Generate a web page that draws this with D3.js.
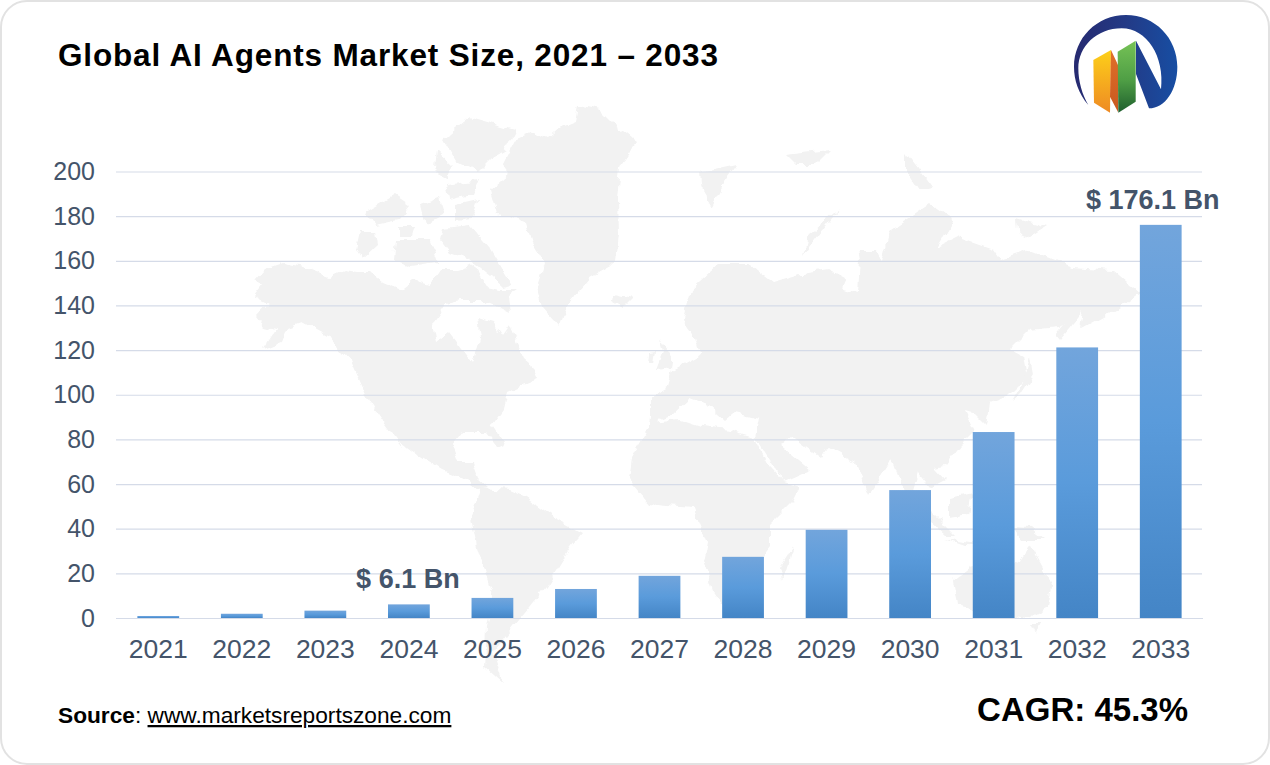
<!DOCTYPE html>
<html>
<head>
<meta charset="utf-8">
<script src="https://cdnjs.cloudflare.com/ajax/libs/d3/7.8.5/d3.min.js"></script>
<style>
html,body{margin:0;padding:0;background:#fff;overflow:hidden}
svg{display:block}
text{font-family:"Liberation Sans",Arial,sans-serif}
</style>
</head>
<body>
<svg id="c" width="1270" height="765"></svg>
<script>
const years = ["2021","2022","2023","2024","2025","2026","2027","2028","2029","2030","2031","2032","2033"];
const marketSize = [0.9,1.9,3.3,6.1,9,13,18.9,27.4,39.5,57.3,83.3,121.2,176.1];
const yTicks = [0,20,40,60,80,100,120,140,160,180,200];
const labelledYears = ["2024","2033"];
const labelTexts = ["$ 6.1 Bn","$ 176.1 Bn"];
const titleText = "Global AI Agents Market Size, 2021 – 2033";

// decorative background map outlines
const mapShapes = [
 // North America
 [[253,297],[262,285],[254,280],[263,270],[283,263],[300,266],[330,277],[345,270],[357,272],[370,272],[383,283],[400,290],[413,280],[430,285],[440,270],[457,270],[473,265],[487,287],[500,290],[517,290],[508,296],[510,313],[500,308],[480,300],[460,300],[447,303],[433,323],[437,343],[450,333],[463,350],[473,363],[480,340],[477,317],[493,322],[503,337],[510,327],[523,357],[530,363],[538,380],[520,387],[507,393],[503,410],[492,425],[505,445],[498,448],[485,432],[462,432],[452,445],[458,462],[472,462],[478,478],[488,487],[478,490],[462,478],[442,470],[418,455],[398,440],[405,452],[385,425],[368,400],[362,387],[350,360],[330,337],[302,322],[288,327],[282,342],[262,350],[275,330],[263,327],[256,318],[268,305]],
 // Greenland
 [[578,105],[600,110],[613,123],[637,142],[620,167],[617,200],[618,233],[615,263],[590,277],[568,303],[560,327],[543,307],[537,287],[545,263],[533,243],[527,223],[505,214],[497,213],[490,190],[510,173],[503,163],[515,140],[535,132],[548,138],[560,128],[575,122]],
 // Canadian arctic
 [[470,117],[515,130],[505,150],[493,157],[478,172],[455,160],[443,140]],
 [[436,150],[452,165],[446,180],[434,168]],
 [[445,185],[478,180],[472,195],[448,200]],
 [[443,228],[470,225],[490,248],[512,285],[503,288],[490,276],[470,260],[450,253],[440,240]],
 [[360,232],[376,232],[378,245],[362,260],[356,250]],
 [[395,240],[430,240],[438,262],[410,266],[393,260]],
 [[366,212],[395,195],[410,205],[398,220],[375,225]],
 [[420,205],[440,198],[445,215],[425,225]],
 [[456,205],[478,200],[472,218],[456,220]],
 [[400,226],[415,226],[412,236],[400,236]],
 // Iceland, UK, Ireland
 [[613,293],[633,297],[623,307],[612,301]],
 [[660,338],[673,360],[672,368],[657,370],[664,352]],
 [[648,353],[655,352],[653,364],[647,364]],
 // Svalbard, Novaya Zemlya and arctic isles
 [[700,173],[737,165],[725,182],[712,207],[702,190]],
 [[840,208],[815,240],[803,257],[808,235]],
 [[785,155],[830,150],[815,165],[795,165]],
 [[905,152],[915,165],[932,187],[918,190],[905,170]],
 [[1017,218],[1047,227],[1030,238],[1018,232]],
 // Eurasia
 [[720,263],[747,263],[773,283],[790,278],[807,273],[830,270],[845,278],[842,290],[858,293],[860,260],[858,250],[877,250],[882,262],[890,230],[930,203],[953,220],[937,247],[957,237],[993,250],[1000,260],[1030,250],[1073,267],[1113,270],[1140,293],[1117,310],[1080,330],[1083,312],[1060,327],[1030,330],[1010,350],[1023,357],[1027,377],[1007,397],[990,403],[987,427],[972,412],[965,410],[975,430],[960,445],[945,465],[934,467],[946,480],[930,488],[918,473],[910,500],[918,510],[905,490],[893,458],[869,495],[856,463],[828,448],[820,458],[791,437],[780,445],[810,470],[783,482],[770,460],[756,438],[760,418],[735,412],[725,420],[708,405],[690,398],[672,415],[660,420],[647,437],[650,417],[650,397],[668,387],[673,370],[700,355],[695,337],[683,320],[690,290]],
 // Japan, Sakhalin
 [[1030,357],[1033,375],[1020,395],[1012,402],[1025,378]],
 [[1083,312],[1060,340],[1056,335],[1072,315]],
 // Africa
 [[629,480],[632,457],[652,423],[680,420],[701,427],[730,430],[754,437],[767,463],[783,482],[799,487],[791,503],[771,523],[771,547],[750,573],[742,603],[722,605],[712,590],[703,563],[707,543],[693,507],[668,505],[648,503]],
 [[793,547],[783,580],[780,567]],
 // South America
 [[481,488],[510,490],[526,497],[555,518],[583,533],[571,547],[546,587],[530,607],[513,627],[493,653],[503,683],[485,667],[487,627],[493,597],[477,547],[471,517]],
 // Indonesia and Oceania
 [[925,505],[955,535],[945,535],[922,515]],
 [[950,497],[972,492],[968,515],[950,518]],
 [[945,538],[995,546],[965,545]],
 [[983,500],[990,525],[980,520]],
 [[1011,527],[1030,528],[1044,540],[1020,540]],
 [[954,580],[971,567],[1000,560],[1020,563],[1028,543],[1052,587],[1048,607],[1028,618],[991,613],[958,605]],
 [[1032,624],[1042,624],[1037,634]]
];

const W = 1270, H = 765;
const svg = d3.select("#c");
const defs = svg.append("defs");

const barGrad = defs.append("linearGradient").attr("id","barGrad").attr("x1",0).attr("y1",0).attr("x2",0).attr("y2",1);
barGrad.append("stop").attr("offset","0%").attr("stop-color","#72a5dc");
barGrad.append("stop").attr("offset","50%").attr("stop-color","#5a9bdb");
barGrad.append("stop").attr("offset","100%").attr("stop-color","#4485c6");

const rough = defs.append("filter").attr("id","rough").attr("filterUnits","userSpaceOnUse")
  .attr("x",0).attr("y",0).attr("width",W).attr("height",H)
  .attr("color-interpolation-filters","sRGB");
rough.append("feTurbulence").attr("type","fractalNoise").attr("baseFrequency",0.09).attr("numOctaves",2).attr("seed",4).attr("result","n");
rough.append("feDisplacementMap").attr("in","SourceGraphic").attr("in2","n").attr("scale",9).attr("xChannelSelector","R").attr("yChannelSelector","G");

function lg(id,x1,y1,x2,y2,stops){
  const g = defs.append("linearGradient").attr("id",id).attr("x1",x1).attr("y1",y1).attr("x2",x2).attr("y2",y2);
  stops.forEach(s=>g.append("stop").attr("offset",s[0]).attr("stop-color",s[1]));
}
lg("arcG",0,0,1,0,[["0%","#262a70"],["50%","#233a86"],["100%","#174ea3"]]);
lg("yelG",0,0,0,1,[["0%","#fdd019"],["100%","#ee8a24"]]);
lg("orgG",0,0,0,1,[["0%","#e0702a"],["100%","#c9581f"]]);
lg("grnG",0,0,0,1,[["0%","#76c356"],["55%","#4f9e45"],["100%","#1f5f2e"]]);

// card
svg.append("rect").attr("x",1).attr("y",1).attr("width",W-2).attr("height",H-2).attr("rx",26).attr("ry",26)
  .attr("fill","#fff").attr("stroke","#e2e2e2").attr("stroke-width",2);

// map
const mapLine = d3.line().curve(d3.curveLinearClosed);
svg.append("g").attr("filter","url(#rough)").selectAll("path").data(mapShapes).join("path")
  .attr("d",d=>mapLine(d)).attr("fill","#f2f2f2");

// scales
const x = d3.scaleBand().domain(years).range([116.5,1202.5]).paddingInner(0.5).paddingOuter(0.25);
const y = d3.scaleLinear().domain([0,200]).range([618,171.5]);
const ink = "#44546a";

// y axis and grid
const yAxis = svg.append("g").attr("transform","translate(116,0)")
  .call(d3.axisLeft(y).tickValues(yTicks).tickSize(-1086).tickPadding(21));
yAxis.select(".domain").remove();
yAxis.selectAll(".tick line").attr("stroke","#d5dbe8").attr("stroke-width",1.2);
yAxis.selectAll(".tick text").attr("fill",ink).attr("font-size",25).attr("font-family","'Liberation Sans',Arial,sans-serif");

// bars
svg.append("g").selectAll("rect").data(years).join("rect")
  .attr("x",d=>x(d)).attr("width",x.bandwidth())
  .attr("y",(d,i)=>y(marketSize[i])).attr("height",(d,i)=>y(0)-y(marketSize[i]))
  .attr("fill","url(#barGrad)");

// x axis
const xAxis = svg.append("g").attr("transform","translate(0,618)")
  .call(d3.axisBottom(x).tickSize(0).tickPadding(21));
xAxis.select(".domain").attr("stroke","#d5dbe8").attr("stroke-width",1.2);
xAxis.selectAll(".tick text").attr("fill",ink).attr("font-size",26.5).attr("font-family","'Liberation Sans',Arial,sans-serif");

// value labels
const labelDx = [-1,-8];
svg.append("g").selectAll("text").data(labelledYears).join("text")
  .attr("x",(d,i)=>x(d)+x.bandwidth()/2+labelDx[i])
  .attr("y",d=>y(marketSize[years.indexOf(d)])-16)
  .attr("text-anchor","middle").attr("font-weight","bold").attr("font-size",27).attr("fill",ink)
  .text((d,i)=>labelTexts[i]);

// title
svg.append("text").attr("x",58).attr("y",66).attr("font-size",31.5).attr("font-weight","bold")
  .attr("fill","#000").attr("textLength",660).attr("lengthAdjust","spacing").text(titleText);

// source
const src = svg.append("text").attr("x",58).attr("y",723).attr("font-size",22.7).attr("fill","#000");
src.append("tspan").attr("font-weight","bold").text("Source");
src.append("tspan").text(": ");
src.append("tspan").attr("text-decoration","underline").text("www.marketsreportszone.com");

// CAGR
svg.append("text").attr("x",1188).attr("y",721).attr("text-anchor","end").attr("font-size",33)
  .attr("font-weight","bold").attr("fill","#000").text("CAGR: 45.3%");

// logo
const logo = svg.append("g").attr("transform","translate(1050,0) scale(0.33333)");
logo.append("path").attr("fill","url(#arcG)")
  .attr("d","M115,315 C85,280 72,240 72,200 C72,115 140,45 228,45 C315,45 382,115 382,200 C382,270 345,325 297,325 L258,222 L258,122 L333,268 C345,170 290,85 215,85 C140,85 85,140 85,205 C85,245 97,285 115,315 Z");
logo.append("path").attr("fill","url(#yelG)").attr("d","M130,180 L183,150 L180,338 L132,308 Z");
logo.append("path").attr("fill","url(#orgG)").attr("d","M183,150 L204,195 L204,336 L180,290 Z");
logo.append("path").attr("fill","url(#grnG)").attr("d","M203,155 L257,122 L257,305 L205,338 Z");
</script>
</body>
</html>
